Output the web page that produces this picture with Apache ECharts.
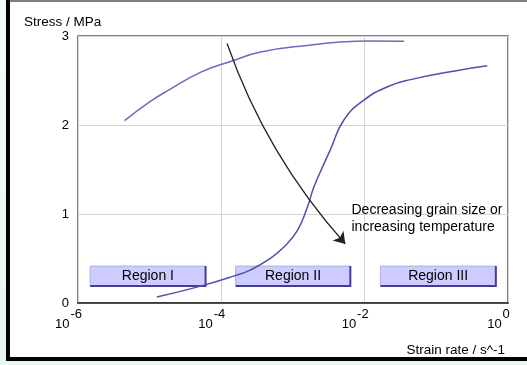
<!DOCTYPE html>
<html>
<head>
<meta charset="utf-8">
<script src="https://cdn.jsdelivr.net/npm/echarts@6/dist/echarts.min.js"></script>
<style>
  html, body { margin: 0; padding: 0; background: #ffffff; }
  #chart { width: 527px; height: 365px; }
</style>
</head>
<body>
<div id="chart"></div>
<script>
// ---- data (strain rates given as log10 exponents) ----
const rateTickExponents = [-6, -4, -2, 0];
const stressTicks = [0, 1, 2, 3];

const upperLogRate = [-5.35, -5.0, -4.74, -4.27, -3.85, -3.45, -2.75, -2.29, -1.96, -1.45];
const upperStress  = [2.05, 2.26, 2.39, 2.60, 2.72, 2.82, 2.90, 2.935, 2.945, 2.94];

const lowerLogRate = [-4.90, -4.25, -3.80, -3.59, -3.36, -3.13, -2.94, -2.80, -2.71, -2.57, -2.48, -2.29, -2.01, -1.68, -1.36, -0.74, -0.29];
const lowerStress  = [0.067, 0.198, 0.31, 0.373, 0.478, 0.627, 0.813, 1.075, 1.30, 1.56, 1.72, 2.056, 2.28, 2.43, 2.51, 2.608, 2.665];

const arrowLogRate = [-3.92, -2.27];
const arrowStress  = [2.915, 0.664];

const regionNames    = ['Region I', 'Region II', 'Region III'];
const regionLogStart = [-5.83, -3.80, -1.78];
const regionLogEnd   = [-4.22, -2.20, -0.17];
const regionStressLow  = [0.19, 0.19, 0.19];
const regionStressHigh = [0.415, 0.415, 0.415];

const annotationLines = ['Decreasing grain size or', 'increasing temperature'];
const xAxisName = 'Strain rate / s^-1';
const yAxisName = 'Stress / MPa';

// ---- build ----
const toRate = e => Math.pow(10, e);
const upperData = upperLogRate.map((e, i) => [toRate(e), upperStress[i]]);
const lowerData = lowerLogRate.map((e, i) => [toRate(e), lowerStress[i]]);
const regionData = regionNames.map((n, i) => [toRate(regionLogStart[i]), toRate(regionLogEnd[i]), regionStressLow[i], regionStressHigh[i]]);

const FONT = '"Liberation Sans", Arial, sans-serif';

const chart = echarts.init(document.getElementById('chart'), null, { renderer: 'canvas' });
chart.setOption({
  animation: false,
  backgroundColor: '#ffffff',
  grid: {
    left: 78, right: 19, top: 36, bottom: 62,
    show: true, borderColor: '#5a5a5a', borderWidth: 1.5, backgroundColor: 'transparent'
  },
  xAxis: {
    type: 'log', logBase: 10,
    min: toRate(rateTickExponents[0]), max: toRate(rateTickExponents[rateTickExponents.length - 1]),
    interval: 2,
    axisLine: { show: true, onZero: false, lineStyle: { color: '#222', width: 1.5 } },
    axisTick: { show: false },
    splitLine: { show: true, lineStyle: { color: '#d4d4d4', width: 1 } },
    axisLabel: {
      show: true, showMinLabel: true, showMaxLabel: true,
      margin: 5,
      formatter: function (v) {
        const e = Math.round(Math.log10(v));
        return '{b|10}{e|' + e + '}{s|}';
      },
      rich: {
        b: { fontFamily: FONT, fontSize: 13, color: '#000', padding: [10, 0, 0, 0], verticalAlign: 'bottom' },
        e: { fontFamily: FONT, fontSize: 13, color: '#000', padding: [0, 0, 0, 1], verticalAlign: 'top' },
        s: { fontFamily: FONT, fontSize: 13, width: 19 }
      }
    }
  },
  yAxis: {
    type: 'value', min: stressTicks[0], max: stressTicks[stressTicks.length - 1], interval: 1,
    axisLine: { show: false },
    axisTick: { show: false },
    splitLine: { show: true, lineStyle: { color: '#d4d4d4', width: 1 } },
    axisLabel: { margin: 9, fontFamily: FONT, fontSize: 13, color: '#000' }
  },
  graphic: [
    { type: 'rect', silent: true, z: -10, shape: { x: 0, y: 0, width: 7, height: 365 },
      style: { fill: new echarts.graphic.LinearGradient(0, 0, 0, 1, [
        { offset: 0, color: '#f3fbfb' }, { offset: 1, color: '#e4f6ec' }]) } },
    { type: 'rect', silent: true, z: -10, shape: { x: 0, y: 361, width: 527, height: 4 },
      style: { fill: '#eaf7f0' } },
    { type: 'line', silent: true, shape: { x1: 8, y1: 1, x2: 527, y2: 1 },
      style: { stroke: '#555', lineWidth: 1.5 } },
    { type: 'polyline', silent: true, shape: { points: [[8, 0], [8, 359], [527, 359]] },
      style: { stroke: '#000', lineWidth: 4, fill: null } },
    { type: 'text', silent: true, x: 24, y: 22.5,
      style: { text: yAxisName, font: '13.5px ' + FONT, fill: '#000', align: 'left', verticalAlign: 'middle' } },
    { type: 'text', silent: true, x: 505, y: 350,
      style: { text: xAxisName, font: '13.5px ' + FONT, fill: '#000', align: 'right', verticalAlign: 'middle' } },
    { type: 'text', silent: true, x: 351.5, y: 202, z: 10,
      style: { text: annotationLines.join('\n'), font: '14px ' + FONT, lineHeight: 17, fill: '#000', align: 'left', verticalAlign: 'top' } }
  ],
  series: [
    {
      type: 'custom', name: 'regions', z: 2, silent: true,
      encode: { x: [0, 1], y: [2, 3] },
      data: regionData,
      renderItem: function (params, api) {
        const p0 = api.coord([api.value(0), api.value(3)]);
        const p1 = api.coord([api.value(1), api.value(2)]);
        const x = p0[0], y = p0[1], w = p1[0] - p0[0], h = p1[1] - p0[1];
        return {
          type: 'group',
          children: [
            { type: 'rect', shape: { x: x, y: y, width: w, height: h },
              style: { fill: '#ccccff', stroke: '#aeaee0', lineWidth: 1 } },
            { type: 'polyline', shape: { points: [[x + w, y], [x + w, y + h], [x, y + h]] },
              style: { stroke: '#4a3a9c', lineWidth: 2, fill: null } },
            { type: 'text', style: { text: regionNames[params.dataIndex], x: x + w / 2, y: y + h / 2,
              align: 'center', verticalAlign: 'middle', font: '14px ' + FONT, fill: '#000' } }
          ]
        };
      }
    },
    {
      type: 'line', name: 'upper', z: 3, data: upperData, smooth: true, showSymbol: false, silent: true,
      lineStyle: { color: '#6b6bc0', width: 1.5 }
    },
    {
      type: 'line', name: 'lower', z: 3, data: lowerData, smooth: true, showSymbol: false, silent: true,
      lineStyle: { color: '#4f4fae', width: 1.5 }
    },
    {
      type: 'lines', name: 'arrow', coordinateSystem: 'cartesian2d', z: 4, silent: true,
      symbol: ['none', 'arrow'], symbolSize: 11,
      lineStyle: { color: '#222', width: 1.3, curveness: -0.1, opacity: 1 },
      data: [{ coords: [[toRate(arrowLogRate[0]), arrowStress[0]], [toRate(arrowLogRate[1]), arrowStress[1]]] }]
    }
  ]
});
</script>
</body>
</html>
